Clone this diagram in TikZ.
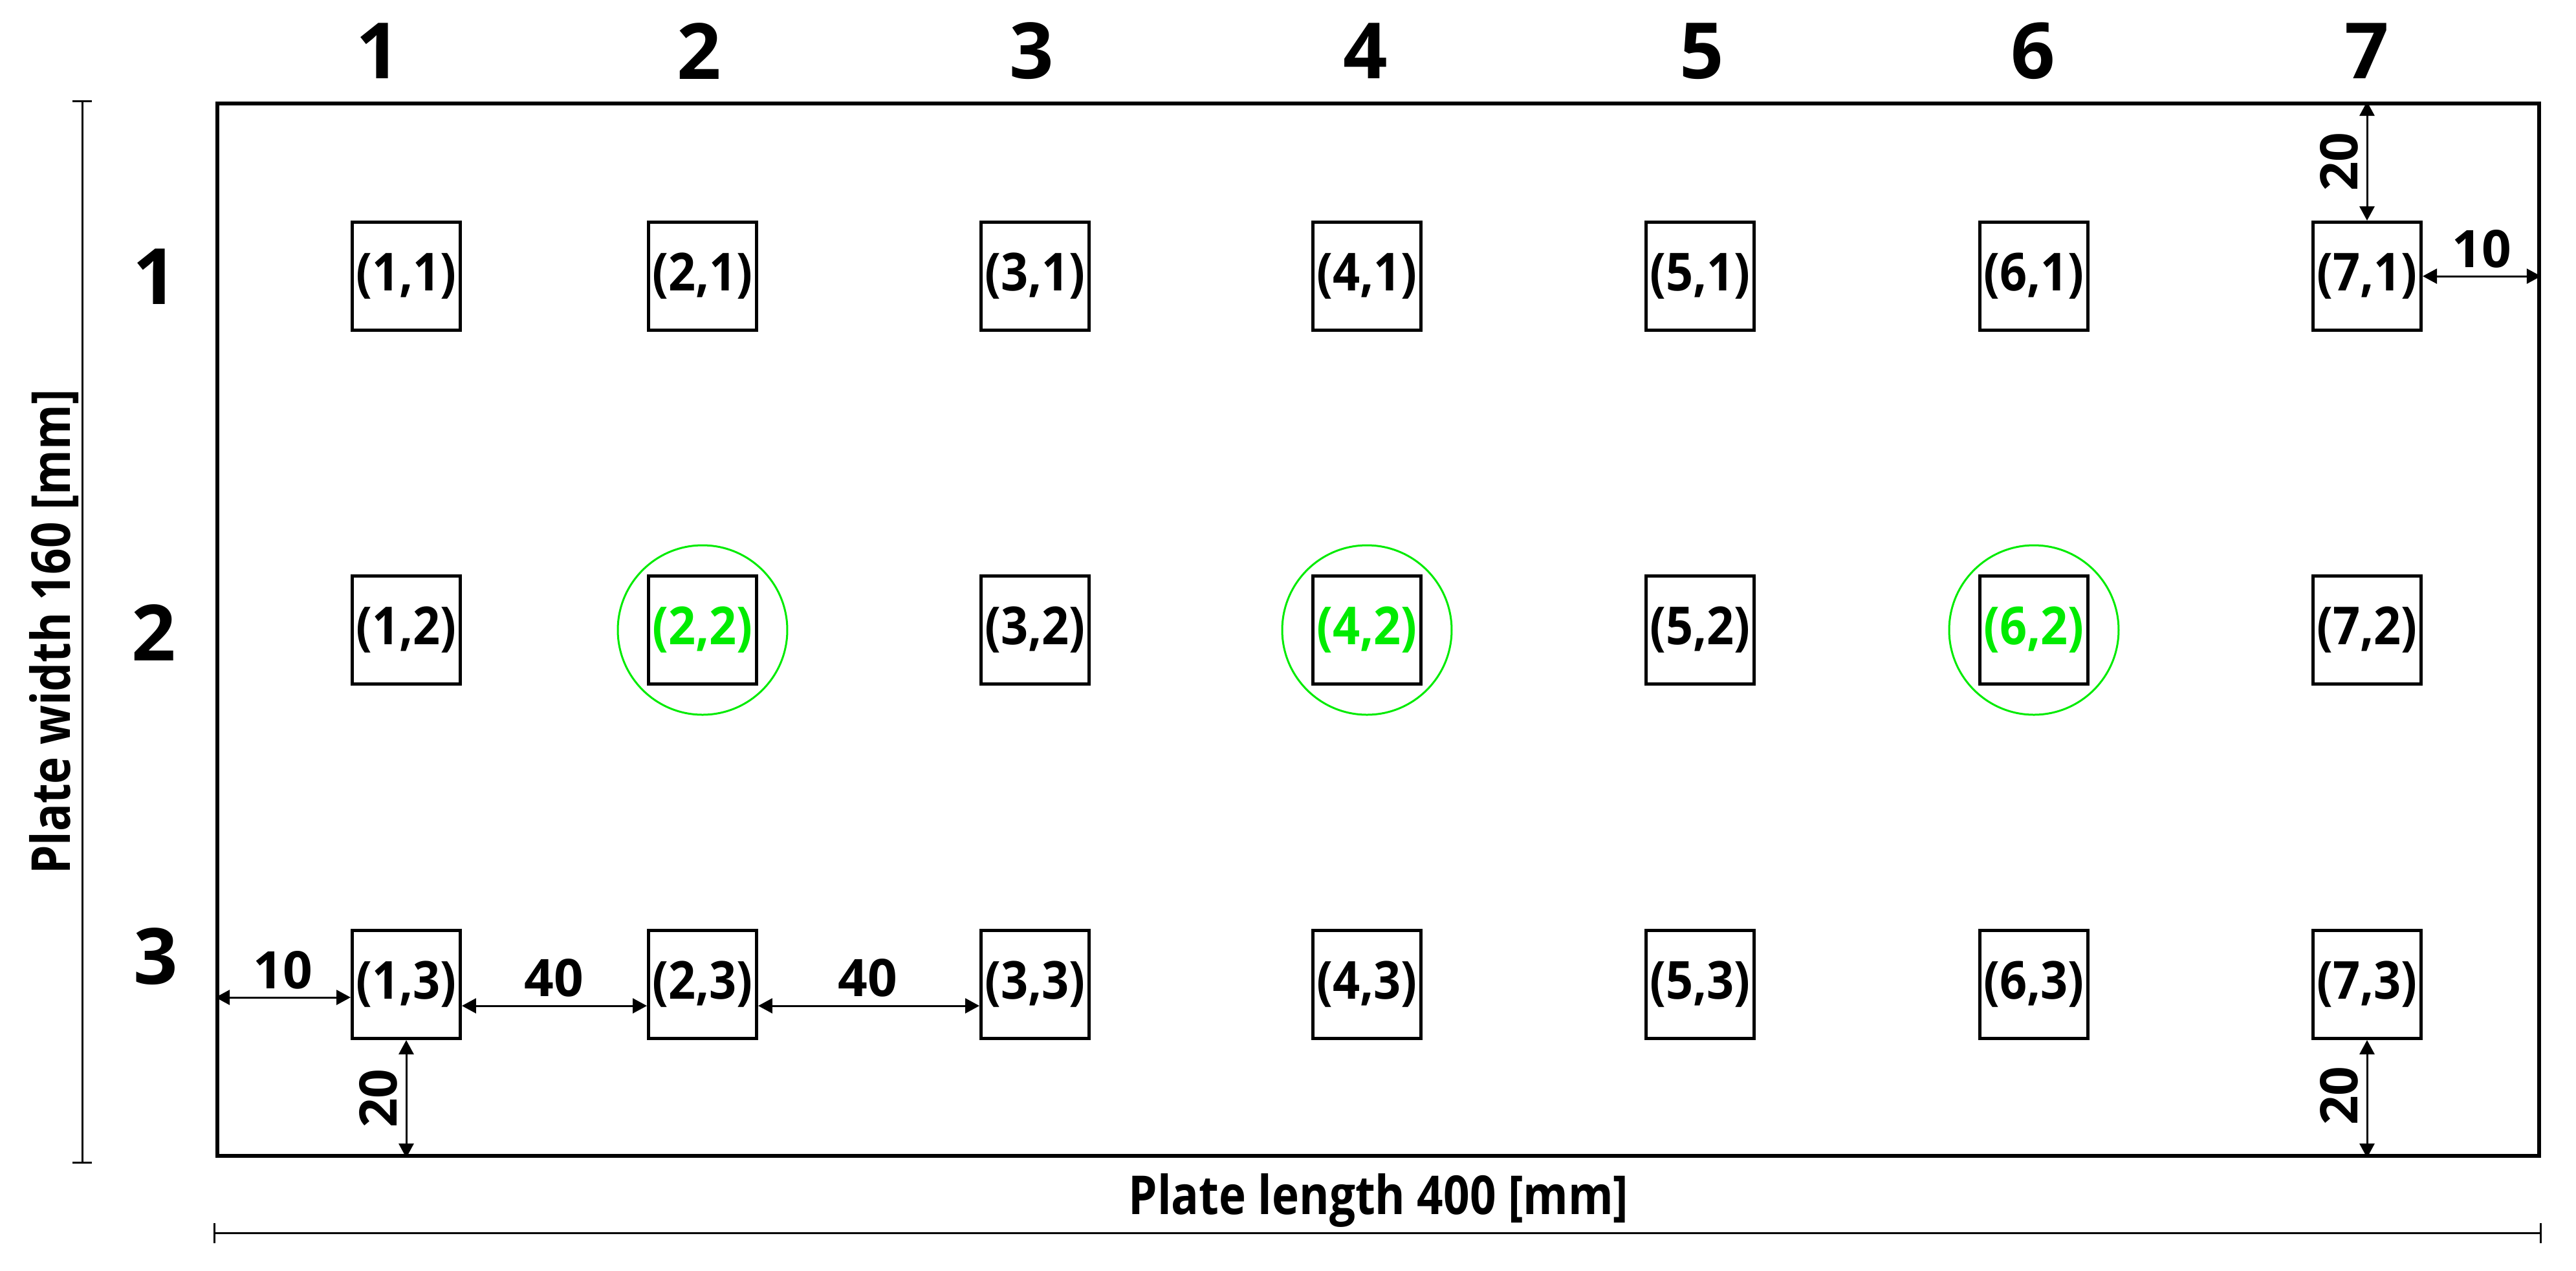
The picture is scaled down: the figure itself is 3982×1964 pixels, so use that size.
\documentclass[tikz,border=0pt]{standalone}
\usepackage{fontspec}
\setmainfont{Open Sans}
\newfontfamily\padfont{Open Sans}[FakeStretch=0.91]
\newfontfamily\capfont{Open Sans}[FakeStretch=0.855]
\usetikzlibrary{arrows.meta,calc}
\definecolor{hl}{RGB}{0,235,0}
\begin{document}
\begin{tikzpicture}[x=0.1pt,y=-0.1pt,
  pad/.style={draw,line width=0.5pt,minimum width=16.7pt,minimum height=16.7pt,inner sep=0pt},
  padtxt/.style={font=\padfont\fontsize{8.1pt}{9pt}\selectfont\bfseries,inner sep=0pt},
  ring/.style={draw=hl,line width=0.3pt,circle,minimum size=26.2pt,inner sep=0pt},
  dimarr/.style={line width=0.3pt,{Triangle[length=2.2pt,width=2.3pt]}-{Triangle[length=2.2pt,width=2.3pt]}},
  dimlbl/.style={font=\fontsize{8pt}{9pt}\selectfont\bfseries,inner sep=0pt},
  idx/.style={font=\fontsize{12pt}{14pt}\selectfont\bfseries,inner sep=0pt},
  plabel/.style={font=\capfont\fontsize{8.3pt}{10pt}\selectfont\bfseries,inner sep=0pt},
  meas/.style={line width=0.3pt,{Bar[width=3.1pt]}-{Bar[width=3.1pt]}}
]
\useasboundingbox (0,0) rectangle (3982,1964);
% plate
\node[draw,line width=0.6pt,minimum width=358.9pt,minimum height=162.7pt,inner sep=0pt] (plate) at (2130.5,973.5) {};
% pads
\foreach \c/\x in {1/628,2/1086,3/1600,4/2113,5/2628,6/3144,7/3659}{
  \foreach \r/\y in {1/427,2/974,3/1522}{
    \node[pad] (b\c\r) at (\x,\y) {};
  }
}
\foreach \c in {1,...,7}{
  \foreach \r in {1,3}{ \node[padtxt] (t\c\r) at (b\c\r) {(\c,\r)}; }
}
\foreach \c in {1,3,5,7}{ \node[padtxt] (t\c2) at (b\c2) {(\c,2)}; }
\foreach \c in {2,4,6}{
  \node[padtxt,text=hl] (t\c2) at (b\c2) {(\c,2)};
  \node[ring] (c\c) at (b\c2) {};
}
% column and row indices
\foreach \c/\x in {1/585,2/1081,3/1595,4/2111,5/2631,6/3143,7/3659}{
  \node[idx] (col\c) at (\x,79) {\c};
}
\node[idx] (row1) at (240,428) {1};
\node[idx] (row2) at (238,978) {2};
\node[idx] (row3) at (241,1479) {3};
% dimension arrows
\draw[dimarr] (b71.north) -- (b71.north |- plate.north);
\node[dimlbl,rotate=90] (d20a) at (3616,250) {20};
\draw[dimarr] (b71.east) -- (b71.east -| plate.east);
\node[dimlbl] (d10a) at (3836,385) {10};
\draw[dimarr] (plate.west |- 0,1542) -- (b13.west |- 0,1542);
\node[dimlbl] (d10b) at (437,1500) {10};
\draw[dimarr] (b13.east |- 0,1555) -- (b23.west |- 0,1555);
\node[dimlbl] (d40a) at (856,1512) {40};
\draw[dimarr] (b23.east |- 0,1555) -- (b33.west |- 0,1555);
\node[dimlbl] (d40b) at (1341,1512) {40};
\draw[dimarr] (b13.south) -- (b13.south |- plate.south);
\node[dimlbl,rotate=90] (d20b) at (585,1698) {20};
\draw[dimarr] (b73.south) -- (b73.south |- plate.south);
\node[dimlbl,rotate=90] (d20c) at (3616,1694) {20};
% overall dimensions
\coordinate (wl1) at (127,155);
\coordinate (wl2) at (127,1799);
\draw[meas] (wl1) -- (wl2);
\node[plabel,rotate=90] (wlab) at (84,977) {Plate width 160 [mm]};
\coordinate (ll1) at (330,1906);
\coordinate (ll2) at (3929,1906);
\draw[meas] (ll1) -- (ll2);
\node[plabel] (llab) at (2131,1856) {Plate length 400 [mm]};
\end{tikzpicture}
\end{document}
